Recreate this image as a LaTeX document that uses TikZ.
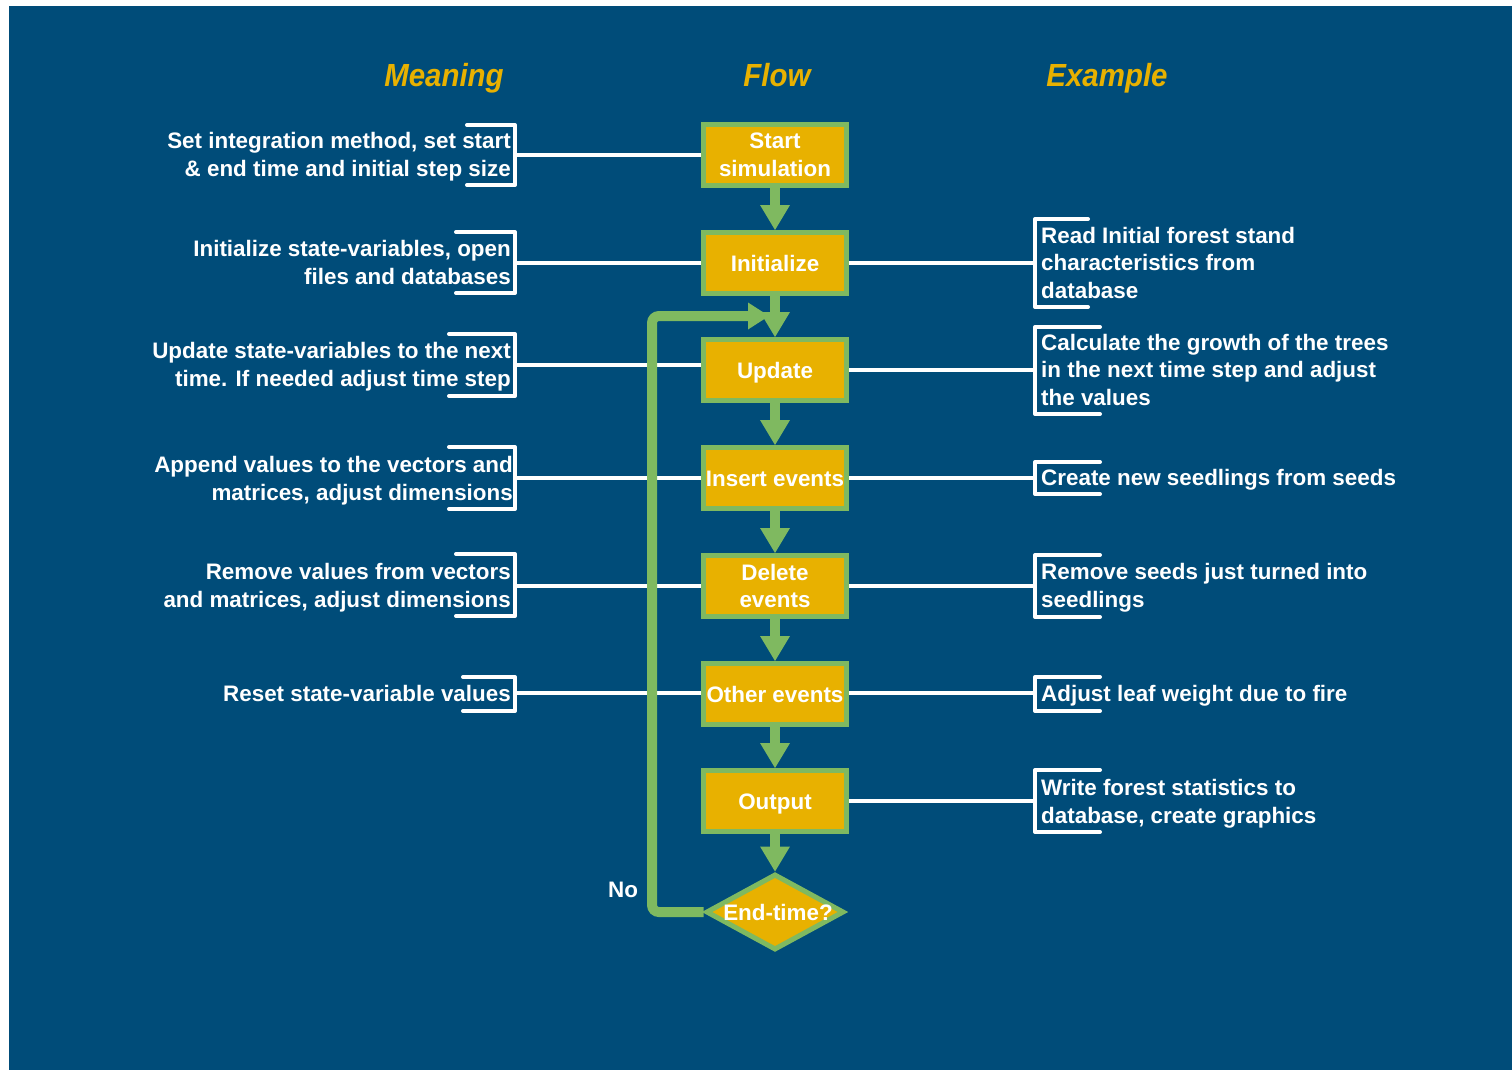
\documentclass[tikz,border=0pt]{standalone}
\usepackage{fontspec}
\setmainfont{Liberation Sans}
\newfontfamily\headfont{Liberation Sans}[FakeStretch=0.92]
\usetikzlibrary{arrows.meta,shapes.geometric,calc}

\definecolor{bgblue}{RGB}{0,76,121}
\definecolor{boxyellow}{RGB}{232,177,0}
\definecolor{boxgreen}{RGB}{127,185,96}

\begin{document}
\begin{tikzpicture}[x=1pt,y=-1pt,
  flowbox/.style={draw=boxgreen, fill=boxyellow, line width=5pt,
    minimum width=143pt, minimum height=61pt, inner sep=0pt,
    text=white, align=center,
    font=\bfseries\fontsize{22.4}{27.5}\selectfont},
  oneline/.style={text height=16.3pt, text depth=0pt},
  decision/.style={diamond, draw=boxgreen, fill=boxyellow, line width=5pt,
    minimum width=138pt, minimum height=76pt, inner sep=0pt,
    text=white, font=\bfseries\fontsize{22.4}{27.5}\selectfont},
  heading/.style={anchor=base, text=boxyellow, inner sep=0pt,
    font=\headfont\bfseries\itshape\fontsize{32}{36}\selectfont},
  note/.style={text=white, inner sep=0pt,
    font=\bfseries\fontsize{22.4}{27.5}\selectfont},
  meaning/.style={note, anchor=north east, align=right},
  example/.style={note, anchor=north west, align=left},
  bracket/.style={draw=white, line width=4pt, line cap=round, line join=round},
  wire/.style={draw=white, line width=4pt},
  flowarrow/.style={draw=boxgreen, line width=10pt,
    -{Triangle[width=30pt,length=25pt,line width=0pt]}},
  looparrow/.style={draw=boxgreen, line width=10pt, rounded corners=7pt,
    -{Triangle[width=27pt,length=21pt,line width=0pt]}}
]
\useasboundingbox (0,0) rectangle (1512,1070);
\fill[white] (0,0) rectangle (1512,1070);
\fill[bgblue] (9,6) rectangle (1512,1070);

% column headings
\node[heading] (hmeaning) at (444,87) {Meaning};
\node[heading] (hflow) at (777,87) {Flow};
\node[heading] (hexample) at (1107,87) {Example};

% flow chart
\node[flowbox] (start) at (775,155) {Start\\simulation};
\node[flowbox, oneline] (init)  at (775,263) {Initialize};
\node[flowbox, oneline] (upd)   at (775,370) {Update};
\node[flowbox, oneline] (ins)   at (775,478) {Insert events};
\node[flowbox] (del)   at (775,586) {Delete\\events};
\node[flowbox, oneline] (oth)   at (775,694) {Other events};
\node[flowbox, oneline] (out)   at (775,801) {Output};
\node[decision] (endq) at (775,912) {\makebox[0pt]{\kern6pt End-time?}};

% meaning texts
\node[meaning] (m1) at (511,132.5) {Set integration method, set start\\\& end time and initial step size};
\node[meaning] (m2) at (511,240.5) {Initialize state-variables, open\\files and databases};
\node[meaning] (m3) at (511,342.5) {Update state-variables to the next\\time. If needed adjust time step};
\node[meaning] (m4) at (513,456.5) {Append values to the vectors and\\matrices, adjust dimensions};
\node[meaning] (m5) at (511,563.5) {Remove values from vectors\\and matrices, adjust dimensions};
\node[meaning] (m6) at (511,685.5) {Reset state-variable values};

% example texts
\node[example] (e2) at (1041,227) {Read Initial forest stand\\characteristics from\\database};
\node[example] (e3) at (1041,334) {Calculate the growth of the trees\\in the next time step and adjust\\the values};
\node[example] (e4) at (1041,469.5) {Create new seedlings from seeds};
\node[example] (e5) at (1041,563.5) {Remove seeds just turned into\\seedlings};
\node[example] (e6) at (1041,685.5) {Adjust leaf weight due to fire};
\node[example] (e7) at (1041,779.5) {Write forest statistics to\\database, create graphics};

% left brackets and their wires
\coordinate (lb1) at (515,155);
\coordinate (lb2) at (515,263);
\coordinate (lb3) at (515,365);
\coordinate (lb4) at (515,478);
\coordinate (lb5) at (515,586);
\coordinate (lb6) at (515,693);
\draw[bracket] (467,125) -- (515,125) -- (515,185) -- (467,185);
\draw[bracket] (456,232) -- (515,232) -- (515,293) -- (456,293);
\draw[bracket] (449,334) -- (515,334) -- (515,396) -- (449,396);
\draw[bracket] (449,447) -- (515,447) -- (515,509) -- (449,509);
\draw[bracket] (456,554) -- (515,554) -- (515,616) -- (456,616);
\draw[bracket] (463,677) -- (515,677) -- (515,711) -- (463,711);
\draw[wire] (lb1) -- (lb1 -| start.west);
\draw[wire] (lb2) -- (lb2 -| init.west);
\draw[wire] (lb3) -- (lb3 -| upd.west);
\draw[wire] (lb4) -- (lb4 -| ins.west);
\draw[wire] (lb5) -- (lb5 -| del.west);
\draw[wire] (lb6) -- (lb6 -| oth.west);

% right brackets and their wires
\coordinate (rb2) at (1035,263);
\coordinate (rb3) at (1035,370);
\coordinate (rb4) at (1035,478);
\coordinate (rb5) at (1035,586);
\coordinate (rb6) at (1035,693);
\coordinate (rb7) at (1035,801);
\draw[bracket] (1088,219) -- (1035,219) -- (1035,307) -- (1088,307);
\draw[bracket] (1100,327) -- (1035,327) -- (1035,414) -- (1100,414);
\draw[bracket] (1100,462) -- (1035,462) -- (1035,494) -- (1100,494);
\draw[bracket] (1100,555) -- (1035,555) -- (1035,617) -- (1100,617);
\draw[bracket] (1100,677) -- (1035,677) -- (1035,711) -- (1100,711);
\draw[bracket] (1100,770) -- (1035,770) -- (1035,832) -- (1100,832);
\draw[wire] (rb2 -| init.east) -- (rb2);
\draw[wire] (rb3 -| upd.east) -- (rb3);
\draw[wire] (rb4 -| ins.east) -- (rb4);
\draw[wire] (rb5 -| del.east) -- (rb5);
\draw[wire] (rb6 -| oth.east) -- (rb6);
\draw[wire] (rb7 -| out.east) -- (rb7);

% flow arrows
\draw[flowarrow] (start.south) -- (init.north);
\draw[flowarrow] (init.south) -- (upd.north);
\draw[flowarrow] (upd.south) -- (ins.north);
\draw[flowarrow] (ins.south) -- (del.north);
\draw[flowarrow] (del.south) -- (oth.north);
\draw[flowarrow] (oth.south) -- (out.north);
\draw[flowarrow] (out.south) -- (endq.north);

% loop back to the update step
\coordinate (loopcorner) at (652,316);
\coordinate (looptip) at (769,316);
\draw[looparrow] (endq.west) -| (loopcorner) -- (looptip);
\node[note] (no) at (623,890) {No};
\end{tikzpicture}
\end{document}
